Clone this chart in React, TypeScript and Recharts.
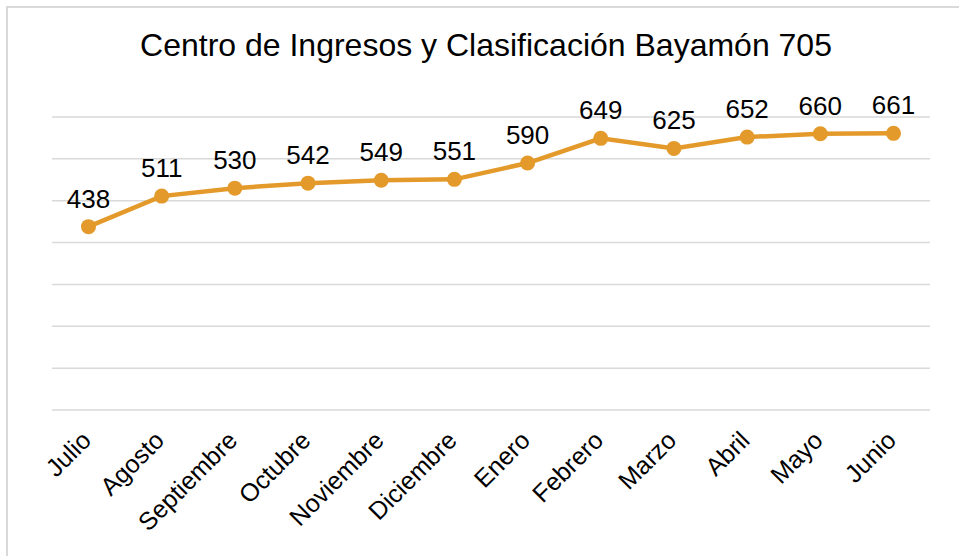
import { LineChart, Line, XAxis, YAxis, CartesianGrid, LabelList } from "recharts";

const months = [
  "Julio",
  "Agosto",
  "Septiembre",
  "Octubre",
  "Noviembre",
  "Diciembre",
  "Enero",
  "Febrero",
  "Marzo",
  "Abril",
  "Mayo",
  "Junio",
];
const ingresos = [438, 511, 530, 542, 549, 551, 590, 649, 625, 652, 660, 661];
const yTicks = [0, 100, 200, 300, 400, 500, 600, 700];

const data = months.map((mes, i) => ({ mes, valor: ingresos[i] }));

const FONT = "'Liberation Sans', Arial, sans-serif";
const LINE_COLOR = "#E49A2B";

const MonthTick = (props: any) => {
  const { x, y, payload } = props;
  return (
    <g transform={`translate(${x + 4},${y + 24})`}>
      <text
        x={0}
        y={0}
        textAnchor="end"
        transform="rotate(-45)"
        fontSize={25}
        fontFamily={FONT}
        fill="#000"
      >
        {payload.value}
      </text>
    </g>
  );
};

const App = () => {
  return (
    <div
      style={{
        position: "absolute",
        left: 0,
        top: 0,
        width: 959,
        height: 556,
        background: "#fff",
        overflow: "hidden",
      }}
    >
      <div
        style={{
          position: "absolute",
          left: 6,
          top: 6,
          width: 960,
          height: 560,
          borderLeft: "2px solid #d9d9d9",
          borderTop: "2px solid #d9d9d9",
        }}
      />
      <div
        style={{
          position: "absolute",
          left: 0,
          top: 27,
          width: 972,
          textAlign: "center",
          fontFamily: FONT,
          fontSize: 32,
          color: "#000",
          whiteSpace: "nowrap",
        }}
      >
        Centro de Ingresos y Clasificación Bayamón 705
      </div>
      <div style={{ position: "absolute", left: 0, top: 0 }}>
        <LineChart
          width={959}
          height={556}
          data={data}
          margin={{ top: 117, right: 29, bottom: 0, left: 52 }}
        >
          <CartesianGrid
            vertical={false}
            stroke="#d9d9d9"
            strokeWidth={1.5}
          />
          <XAxis
            dataKey="mes"
            axisLine={false}
            tickLine={false}
            height={146}
            interval={0}
            padding={{ left: 36.5, right: 36.5 }}
            tick={<MonthTick />}
          />
          <YAxis
            hide
            domain={[0, 700]}
            ticks={yTicks}
            width={0}
          />
          <Line
            type="linear"
            dataKey="valor"
            stroke={LINE_COLOR}
            strokeWidth={4.5}
            dot={{ r: 7.5, fill: LINE_COLOR, stroke: LINE_COLOR, strokeWidth: 0 }}
            isAnimationActive={false}
          >
            <LabelList
              dataKey="valor"
              position="top"
              offset={19}
              fontSize={26}
              fontFamily={FONT}
              fill="#000"
            />
          </Line>
        </LineChart>
      </div>
    </div>
  );
};

export default App;
